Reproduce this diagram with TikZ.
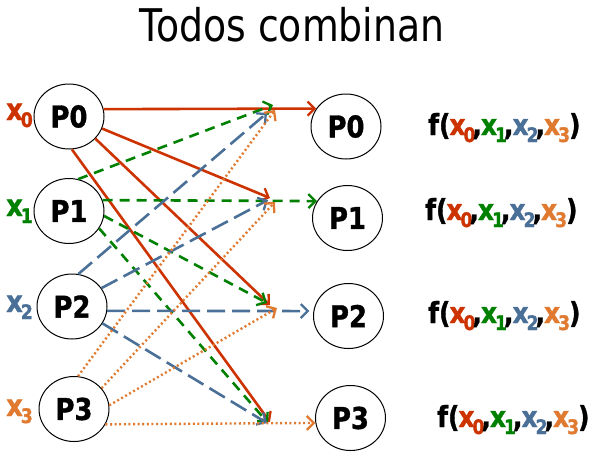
\documentclass[tikz,border=0pt]{standalone}
\usepackage{fontspec}
\usepackage{graphicx}
\setmainfont{DejaVu Sans}
\newfontfamily\lblfont{DejaVu Sans Bold}[FakeStretch=0.86,FakeBold=1.2]
\newfontfamily\ttlfont{DejaVu Sans}[FakeStretch=0.84]
\usetikzlibrary{arrows.meta,shapes.geometric}
\definecolor{cr}{HTML}{CC3300}
\definecolor{cg}{HTML}{008000}
\definecolor{cb}{HTML}{4A7098}
\definecolor{co}{HTML}{E07A30}
\newcommand\xsub[3]{\textcolor{#1}{x\kern-2pt\raisebox{-#3}{\fontsize{20}{20}\selectfont #2}}}
\newcommand\fargs{f(\kern-1pt\xsub{cr}{0}{7pt}\kern-3pt,\kern-1pt\xsub{cg}{1}{7pt}\kern-3pt,\kern-1pt\xsub{cb}{2}{7pt}\kern-3pt,\kern-1pt\xsub{co}{3}{7pt}\kern-1pt)}
\begin{document}
\begin{tikzpicture}[x=1pt,y=-1pt]
\useasboundingbox (0,0) rectangle (593,456);
\tikzset{
  proc/.style={ellipse,draw,line width=1pt,minimum width=70pt,minimum height=65pt,inner sep=0pt,
    font=\lblfont\fontsize{30}{30}\selectfont},
  xlab/.style={anchor=base west,inner sep=0pt,font=\lblfont\fontsize{30}{30}\selectfont},
  flab/.style={anchor=base west,inner sep=0pt,font=\lblfont\fontsize{29}{29}\selectfont},
  flow/.style={line width=2.6pt,-{Straight Barb[length=7pt,width=14pt,line width=2.3pt]}},
  fa/.style={flow,cr},
  fb/.style={flow,cg,dash pattern=on 10pt off 7pt},
  fc/.style={flow,cb,dash pattern=on 18pt off 7pt},
  fd/.style={flow,co,line width=2.4pt,dash pattern=on 2pt off 2.6pt}
}
\node[anchor=base,inner sep=0pt,font=\ttlfont\fontsize{45}{45}\selectfont] (title) at (292,41) {Todos combinan};

\node[proc] (L0) at (69,116.5) {P0};
\node[proc] (L1) at (69,211) {P1};
\node[proc] (L2) at (72,306.5) {P2};
\node[proc] (L3) at (74,409) {P3};
\node[proc] (R0) at (346,126.5) {P0};
\node[proc] (R1) at (347.5,218) {P1};
\node[proc] (R2) at (348.5,316) {P2};
\node[proc] (R3) at (350.5,418) {P3};

\node[xlab] (x0) at (6,120) {\xsub{cr}{0}{7pt}};
\node[xlab] (x1) at (6,216) {\xsub{cg}{1}{7pt}};
\node[xlab] (x2) at (6,312) {\xsub{cb}{2}{7pt}};
\node[xlab] (x3) at (6,416) {\xsub{co}{3}{7pt}};

\node[flab] (f0) at (428,135) {\fargs};
\node[flab] (f1) at (425,220) {\fargs};
\node[flab] (f2) at (428,323) {\fargs};
\node[flab] (f3) at (437,427) {\fargs};

\coordinate (a1) at (270,198);
\coordinate (a2) at (270,305);
\coordinate (a3) at (270,422);
\coordinate (b0) at (273,105);
\coordinate (b2) at (267,303);
\coordinate (b3) at (268,423);
\coordinate (c0) at (267,113);
\coordinate (c1) at (268,200);
\coordinate (c3) at (267,423);
\coordinate (d0) at (275,110);
\coordinate (d1) at (275,202);
\coordinate (d2) at (277,308);

% from P0
\draw[fa] (L0.12) -- (R0.149);
\draw[fa] (L0.-20) -- (a1);
\draw[fa] (L0.-40) -- (a2);
\draw[fa] (L0.-85) -- (a3);
% from P1
\draw[fb] (L1.18) -- (R1.151);
\draw[fb] (L1.74) -- (b0);
\draw[fb] (L1.-8) -- (b2);
\draw[fb] (L1.-30) -- (b3);
% from P2
\draw[fc,shorten >=4pt] (L2.-7) -- (R2.172);
\draw[fc] (L2.79) -- (c0);
\draw[fc] (L2.32) -- (c1);
\draw[fc] (L2.-29) -- (c3);
% from P3
\draw[fd] (L3.-26) -- (R3.-172);
\draw[fd] (L3.83) -- (d0);
\draw[fd] (L3.37) -- (d1);
\draw[fd] (L3.6) -- (d2);
\end{tikzpicture}
\end{document}
